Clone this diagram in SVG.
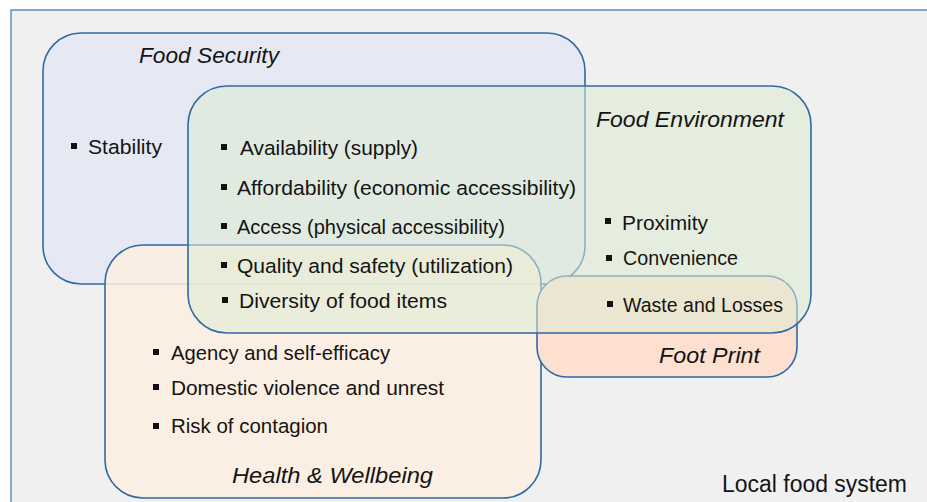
<svg xmlns="http://www.w3.org/2000/svg" width="927" height="502" viewBox="0 0 927 502">
  <style>
    .zone { stroke: #2e6aa6; stroke-width: 1.6; }
    .item { font-family: "Liberation Sans", Arial, sans-serif; font-size: 20.5px; fill: #141414; }
    .title { font-family: "Liberation Sans", Arial, sans-serif; font-size: 22px; font-style: italic; fill: #141414; }
    .caption { font-family: "Liberation Sans", Arial, sans-serif; font-size: 23px; fill: #141414; }
    .dot { fill: #111111; }
  </style>
  <defs>
    <rect id="bullet" class="dot" width="6" height="6"/>
  </defs>

  <!-- page background and frame -->
  <rect x="0" y="0" width="927" height="502" fill="#ffffff"/>
  <rect x="11" y="10" width="930" height="500" fill="#f0f0f0" stroke="#3b73b0" stroke-width="1.2"/>

  <!-- Food Security -->
  <g id="food-security">
    <rect class="zone" x="43" y="33" width="542" height="251" rx="38" ry="38" fill="#e6e9f4"/>
    <text class="title" x="139" y="63" textLength="140" lengthAdjust="spacingAndGlyphs">Food Security</text>
    <use href="#bullet" x="71" y="143"/>
    <text class="item" x="88" y="154" textLength="74" lengthAdjust="spacingAndGlyphs">Stability</text>
  </g>

  <!-- Health & Wellbeing -->
  <g id="health-wellbeing">
    <rect class="zone" x="105" y="245" width="436" height="253" rx="38" ry="38" fill="#fcefdf" fill-opacity="0.85"/>
    <text class="title" x="232" y="483" textLength="201" lengthAdjust="spacingAndGlyphs">Health &amp; Wellbeing</text>
    <use href="#bullet" x="153" y="349"/>
    <text class="item" x="171" y="360" textLength="219" lengthAdjust="spacingAndGlyphs">Agency and self-efficacy</text>
    <use href="#bullet" x="153" y="384"/>
    <text class="item" x="171" y="395" textLength="273" lengthAdjust="spacingAndGlyphs">Domestic violence and unrest</text>
    <use href="#bullet" x="153" y="423"/>
    <text class="item" x="171" y="433" textLength="157" lengthAdjust="spacingAndGlyphs">Risk of contagion</text>
  </g>

  <!-- Foot Print -->
  <g id="foot-print">
    <rect class="zone" x="537" y="276" width="260" height="101" rx="30" ry="30" fill="#fde0d0"/>
    <text class="title" x="659" y="363" textLength="101" lengthAdjust="spacingAndGlyphs">Foot Print</text>
  </g>

  <!-- Food Environment (translucent, drawn on top) -->
  <g id="food-environment">
    <rect class="zone" x="188" y="86" width="623" height="247" rx="39" ry="39" fill="#dcebd2" fill-opacity="0.55"/>
    <text class="title" x="596" y="127" textLength="188" lengthAdjust="spacingAndGlyphs">Food Environment</text>
    <use href="#bullet" x="221" y="144"/>
    <text class="item" x="240" y="155" textLength="178" lengthAdjust="spacingAndGlyphs">Availability (supply)</text>
    <use href="#bullet" x="221" y="184"/>
    <text class="item" x="237" y="195" textLength="339" lengthAdjust="spacingAndGlyphs">Affordability (economic accessibility)</text>
    <use href="#bullet" x="221" y="223"/>
    <text class="item" x="237" y="234" textLength="268" lengthAdjust="spacingAndGlyphs">Access (physical accessibility)</text>
    <use href="#bullet" x="221" y="262"/>
    <text class="item" x="237" y="273" textLength="276" lengthAdjust="spacingAndGlyphs">Quality and safety (utilization)</text>
    <use href="#bullet" x="222" y="297"/>
    <text class="item" x="239" y="308" textLength="208" lengthAdjust="spacingAndGlyphs">Diversity of food items</text>
    <use href="#bullet" x="605" y="218"/>
    <text class="item" x="622" y="230" textLength="86" lengthAdjust="spacingAndGlyphs">Proximity</text>
    <use href="#bullet" x="606" y="255"/>
    <text class="item" x="623" y="265" textLength="115" lengthAdjust="spacingAndGlyphs">Convenience</text>
    <use href="#bullet" x="607" y="301"/>
    <text class="item" x="623" y="312" textLength="160" lengthAdjust="spacingAndGlyphs">Waste and Losses</text>
  </g>

  <!-- system label -->
  <g id="local-food-system">
    <text class="caption" x="722" y="492" textLength="185" lengthAdjust="spacingAndGlyphs">Local food system</text>
  </g>

  <g id="connectors"/>
</svg>
